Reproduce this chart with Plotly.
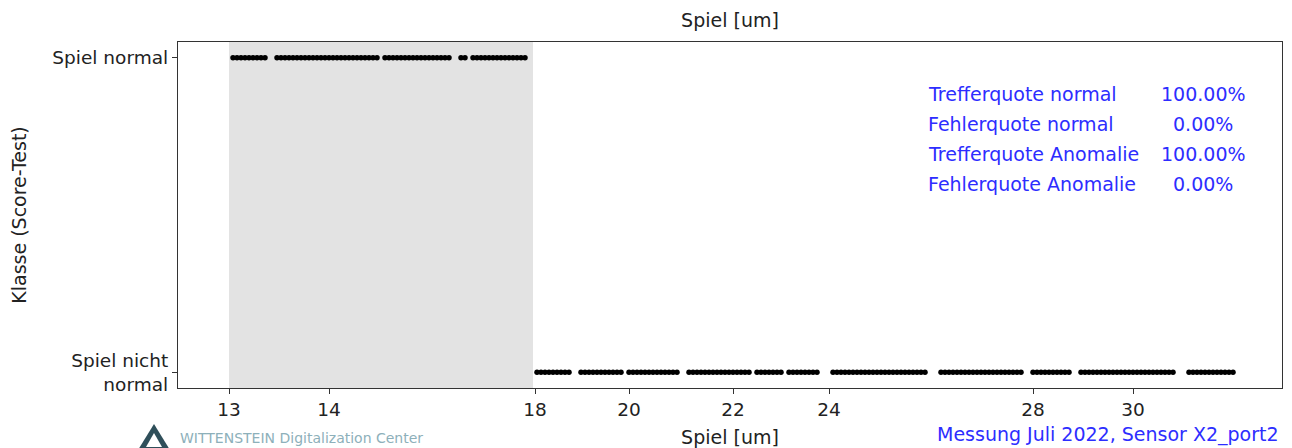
import plotly.graph_objects as go

# ---- data (sample index runs, 1 = normal, 0 = anomaly) ----
normal_runs = [(1, 9), (12, 37), (39, 55), (58, 59), (61, 74)]
anomaly_runs = [(77, 85), (88, 98), (100, 112), (115, 130), (132, 138), (140, 147),
                (151, 174), (178, 198), (201, 210), (213, 236), (240, 251)]
normal_span = (0, 76)

tick_pos = [0, 25, 76.5, 100, 126, 150, 201, 226]
tick_labels = ["13", "14", "18", "20", "22", "24", "28", "30"]

class_vals = [0, 1]
class_labels = ["Spiel nicht<br>normal", "Spiel normal"]

stat_names = ["Trefferquote normal", "Fehlerquote normal",
              "Trefferquote Anomalie", "Fehlerquote Anomalie"]
stat_values = ["100.00%", "0.00%", "100.00%", "0.00%"]


def expand(runs):
    out = []
    for a, b in runs:
        out.extend(range(a, b + 1))
    return out


xn = expand(normal_runs)
xa = expand(anomaly_runs)

FONT = "DejaVu Sans"
BLUE = "rgb(45,45,255)"
FS = 19

fig = go.Figure()
fig.add_trace(go.Scatter(x=xn, y=[1] * len(xn), mode="markers",
                         marker=dict(size=5.5, color="black"), showlegend=False))
fig.add_trace(go.Scatter(x=xa, y=[0] * len(xa), mode="markers",
                         marker=dict(size=5.5, color="black"), showlegend=False))

fig.add_shape(type="rect", xref="x", yref="paper", x0=normal_span[0], x1=normal_span[1],
              y0=0, y1=1, fillcolor="#e3e3e3", line=dict(width=0), layer="below")

W, H = 1292, 448
L, R, T, B = 178, 1282, 42, 388


def px(xp):
    return (xp - L) / (R - L)


def py(yp):
    return (B - yp) / (B - T)


ann = []
rows_y = [94, 124, 154, 184]
for name, val, yy in zip(stat_names, stat_values, rows_y):
    ann.append(dict(text=name, x=px(926), y=py(yy), xref="paper", yref="paper",
                    xanchor="left", yanchor="middle", showarrow=False,
                    font=dict(family=FONT, size=FS, color=BLUE)))
    ann.append(dict(text=val, x=px(1203), y=py(yy), xref="paper", yref="paper",
                    xanchor="center", yanchor="middle", showarrow=False,
                    font=dict(family=FONT, size=FS, color=BLUE)))

ann.append(dict(text="Messung Juli 2022, Sensor X2_port2", x=px(1281), y=py(434),
                xref="paper", yref="paper", xanchor="right", yanchor="middle",
                showarrow=False, font=dict(family=FONT, size=FS, color=BLUE)))
ann.append(dict(text="WITTENSTEIN Digitalization Center", x=px(178), y=py(438),
                xref="paper", yref="paper", xanchor="left", yanchor="middle",
                showarrow=False, font=dict(family=FONT, size=14, color="#8db0ba")))

# small logo glyph (decorative)
fig.add_shape(type="path", xref="paper", yref="paper",
              path=f"M {px(154)} {py(424)} L {px(170)} {py(450)} L {px(138)} {py(450)} Z",
              fillcolor="#2f4f5a", line=dict(width=0))
fig.add_shape(type="path", xref="paper", yref="paper",
              path=f"M {px(154)} {py(433)} L {px(162)} {py(447)} L {px(146)} {py(447)} Z",
              fillcolor="white", line=dict(width=0))

fig.update_layout(
    width=W, height=H, autosize=False,
    margin=dict(l=L, r=W - R, t=T, b=H - B, autoexpand=False),
    plot_bgcolor="white", paper_bgcolor="white",
    font=dict(family=FONT, size=FS, color="#222"),
    title=dict(text="Spiel [um]", x=0.5, xref="paper", xanchor="center",
               y=1 - 20 / H, yanchor="middle", font=dict(family=FONT, size=FS, color="#222")),
    annotations=ann,
    showlegend=False,
)
fig.update_xaxes(range=[-12.75, 263.25], tickmode="array", tickvals=tick_pos,
                 ticktext=tick_labels, ticks="outside", ticklen=5, tickcolor="#333",
                 showgrid=False, zeroline=False, showline=True, linecolor="#333",
                 linewidth=1.2, mirror=True, tickfont=dict(size=18.5),
                 title=dict(text="Spiel [um]", standoff=11, font=dict(size=FS)))
fig.update_yaxes(range=[-0.05, 1.05], tickmode="array", tickvals=class_vals,
                 ticktext=class_labels, ticks="outside", ticklen=5, tickcolor="#333",
                 showgrid=False, zeroline=False, showline=True, linecolor="#333",
                 linewidth=1.2, mirror=True, tickfont=dict(size=18.5),
                 title=dict(text="Klasse (Score-Test)", standoff=20, font=dict(size=FS)))

fig.write_html("out.html", config={"displayModeBar": False},
               post_script="document.body.style.margin='0px';")
